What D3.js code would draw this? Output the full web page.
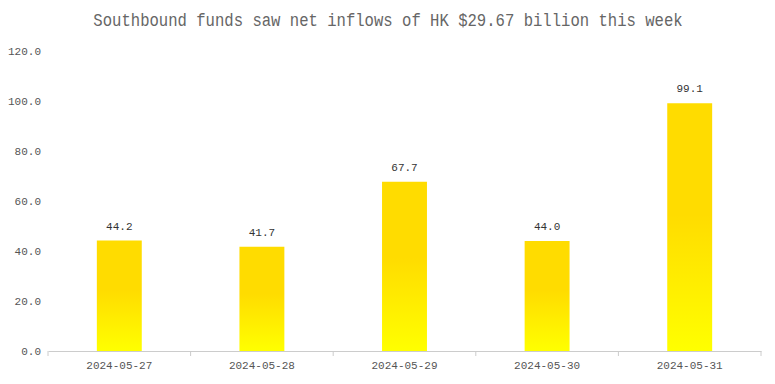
<!DOCTYPE html>
<html>
<meta charset="utf-8">
<head>
  <title>Southbound funds</title>
</head>
<style>
body { margin: 0; background: #fff; }
text { font-family: "Liberation Mono", "DejaVu Sans Mono", monospace; }
.title { fill: #666; font-size: 15.6px; text-anchor: middle; }
.axis text { fill: #555; font-size: 11px; }
.value { fill: #333; font-size: 11px; text-anchor: middle; }
</style>
<body>
  <svg width="775" height="384"></svg>
  <script src="https://cdnjs.cloudflare.com/ajax/libs/d3/7.8.5/d3.min.js"></script>
  <script>
var width = 775, height = 384
var margin = {top: 51, right: 14, bottom: 33, left: 48}

// data
var dates = ['2024-05-27', '2024-05-28', '2024-05-29', '2024-05-30', '2024-05-31']
var inflows = [44.2, 41.7, 67.7, 44.0, 99.1]
var yTicks = [0, 20, 40, 60, 80, 100, 120]

var svg = d3.select('svg')

// gold -> yellow gradient, one per bar
var grad = svg.append('defs').append('linearGradient')
  .attr('id', 'barGrad')
  .attr('x1', 0).attr('y1', 0).attr('x2', 0).attr('y2', 1)
grad.append('stop').attr('offset', '0%').attr('stop-color', '#FFDC00')
grad.append('stop').attr('offset', '45%').attr('stop-color', '#FFDC00')
grad.append('stop').attr('offset', '100%').attr('stop-color', '#FFFF00')

var x = d3.scaleBand()
  .domain(dates)
  .range([margin.left, width - margin.right])
  .paddingInner(0.685)
  .paddingOuter(0.3425)

var band = d3.scaleBand().domain(dates).range([margin.left, width - margin.right])

var y = d3.scaleLinear()
  .domain([0, 120])
  .range([height - margin.bottom, margin.top])

// title: narrow glyphs stretched vertically, like the original font
svg.append('text')
  .attr('class', 'title')
  .attr('transform', 'translate(388,26) scale(1,1.18)')
  .text('Southbound funds saw net inflows of HK $29.67 billion this week')

// y axis (labels only)
var yAxis = svg.append('g')
  .attr('class', 'axis')
  .attr('transform', 'translate(' + (margin.left - 7) + ',0)')
  .call(d3.axisLeft(y).tickValues(yTicks).tickFormat(d3.format('.1f')).tickSize(0).tickPadding(0))
yAxis.select('.domain').remove()
yAxis.selectAll('text').attr('dy', '0.35em')

// x axis
var xAxis = svg.append('g')
  .attr('class', 'axis')
  .attr('transform', 'translate(0,' + (height - margin.bottom) + ')')
  .call(d3.axisBottom(band).tickSize(0).tickPadding(10).tickSizeOuter(0))
xAxis.select('.domain').attr('stroke', '#ccc')
xAxis.selectAll('.tick line').remove()
xAxis.selectAll('.sep')
  .data(d3.range(dates.length + 1))
  .enter()
  .append('line')
  .attr('x1', function(i) { return margin.left + i * band.step() })
  .attr('x2', function(i) { return margin.left + i * band.step() })
  .attr('y1', 0)
  .attr('y2', 5)
  .attr('stroke', '#ccc')

// bars
svg.append('g')
  .selectAll('rect')
  .data(inflows)
  .enter()
  .append('rect')
  .attr('x', function(d, i) { return x(dates[i]) })
  .attr('width', x.bandwidth())
  .attr('y', function(d) { return y(d) })
  .attr('height', function(d) { return y(0) - y(d) })
  .attr('fill', 'url(#barGrad)')

// value labels
svg.append('g')
  .selectAll('text')
  .data(inflows)
  .enter()
  .append('text')
  .attr('class', 'value')
  .attr('x', function(d, i) { return x(dates[i]) + x.bandwidth() / 2 })
  .attr('y', function(d) { return y(d) - 11 })
  .text(function(d) { return d.toFixed(1) })
  </script>
</body>
</html>
